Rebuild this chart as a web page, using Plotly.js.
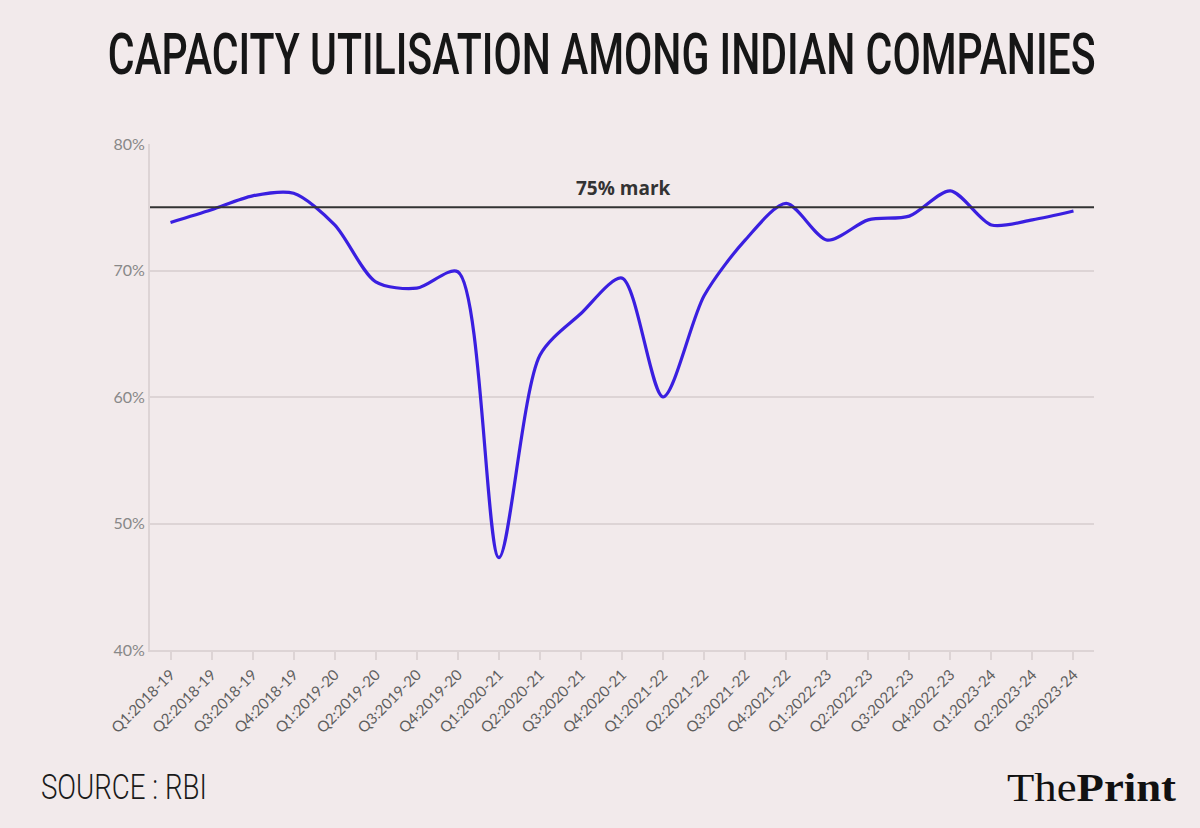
<!DOCTYPE html>
<html>
<head>
<meta charset="utf-8">
<script src="https://cdn.plot.ly/plotly-3.0.1.min.js"></script>
<style>
html,body{margin:0;padding:0;background:#f2eaeb;}
#chart{width:1200px;height:828px;}
</style>
</head>
<body>
<div id="chart"></div>
<script>
const quarters = ["Q1:2018-19","Q2:2018-19","Q3:2018-19","Q4:2018-19",
  "Q1:2019-20","Q2:2019-20","Q3:2019-20","Q4:2019-20",
  "Q1:2020-21","Q2:2020-21","Q3:2020-21","Q4:2020-21",
  "Q1:2021-22","Q2:2021-22","Q3:2021-22","Q4:2021-22",
  "Q1:2022-23","Q2:2022-23","Q3:2022-23","Q4:2022-23",
  "Q1:2023-24","Q2:2023-24","Q3:2023-24"];
const utilisation = [73.8,74.8,75.9,76.1,
  73.6,69.1,68.6,69.9,
  47.3,63.3,66.6,69.4,
  60.0,68.0,72.4,75.3,
  72.4,74.0,74.3,76.3,
  73.6,74.0,74.7];
const markValue = 75;
const yTicks = [40,50,60,70,80];
const yTickLabels = ["40%","50%","60%","70%","80%"];

const traces = [{
  x: quarters, y: utilisation, type: "scatter", mode: "lines",
  line: {color: "#3a1fe0", width: 3.2, shape: "spline", smoothing: 0.8},
  hoverinfo: "x+y"
}];

const layout = {
  width: 1200, height: 828,
  paper_bgcolor: "#f2eaeb", plot_bgcolor: "#f2eaeb",
  margin: {l: 150, r: 106, t: 144, b: 178},
  showlegend: false,
  xaxis: {
    type: "category", tickangle: -45, range: [-0.5, quarters.length - 0.5],
    tickfont: {family: "Lato, 'Open Sans', sans-serif", size: 15, color: "#5e5e5e"},
    showgrid: false, showline: true, linecolor: "#ddd4d5", linewidth: 2,
    ticks: "outside", ticklen: 8, tickcolor: "#ddd4d5", tickwidth: 2,
    zeroline: false, fixedrange: true
  },
  yaxis: {
    range: [40, 80], tickvals: yTicks, ticktext: yTickLabels,
    tickfont: {family: "Lato, 'Open Sans', sans-serif", size: 16, color: "#888"},
    showgrid: true, gridcolor: "#ddd4d5", gridwidth: 2,
    showline: true, linecolor: "#ddd4d5", linewidth: 2,
    ticks: "", ticklen: 0, zeroline: false, fixedrange: true
  },
  shapes: [{
    type: "line", xref: "paper", x0: 0, x1: 1, yref: "y", y0: markValue, y1: markValue,
    line: {color: "#333", width: 2}
  }],
  annotations: [
    {text: "<b>75% mark</b>", xref: "paper", x: 0.5, xshift: 1, yref: "y", y: markValue,
     yanchor: "bottom", yshift: 4, showarrow: false,
     font: {family: "'Open Sans', Lato, sans-serif", size: 19, color: "#333"}},
    {text: "CAPACITY UTILISATION AMONG INDIAN COMPANIES", xref: "paper", yref: "paper",
     x: 0.5, xanchor: "center", xshift: -21, y: 1, yshift: 90, yanchor: "middle", showarrow: false,
     font: {family: "Roboto, sans-serif", size: 40, weight: 500, color: "#161616"}},
    {text: "SOURCE : RBI", xref: "paper", yref: "paper", x: 0, xshift: -26, xanchor: "center",
     y: 0, yshift: -137, yanchor: "middle", showarrow: false,
     font: {family: "Roboto, sans-serif", size: 35, weight: 300, color: "#1a1a1a"}},
    {text: "The<b>Print</b>", xref: "paper", yref: "paper", x: 1, xshift: -2, xanchor: "center",
     y: 0, yshift: -137, yanchor: "middle", showarrow: false,
     font: {family: "'Liberation Serif', 'DejaVu Serif', serif", size: 40, color: "#111"}}
  ]
};

function fitText(gd, idx, len, scaleY) {
  const g = gd.querySelector('.annotation[data-index="' + idx + '"]');
  if (!g) return;
  const t = g.querySelector('text.annotation-text');
  if (!t) return;
  t.setAttribute('textLength', len);
  t.setAttribute('lengthAdjust', 'spacingAndGlyphs');
  let bb = t.getBBox();
  if (scaleY && scaleY !== 1) {
    const cy = bb.y + bb.height / 2;
    t.setAttribute('transform', 'translate(0,' + cy + ') scale(1,' + scaleY + ') translate(0,' + (-cy) + ')');
    bb = {x: bb.x, y: cy - bb.height * scaleY / 2, width: bb.width, height: bb.height * scaleY};
  }
  g.querySelectorAll('rect').forEach(r => {
    r.setAttribute('x', bb.x);
    r.setAttribute('y', bb.y);
    r.setAttribute('width', bb.width);
    r.setAttribute('height', bb.height);
  });
}

Plotly.newPlot("chart", traces, layout, {displayModeBar: false, staticPlot: true}).then(gd => {
  fitText(gd, 1, 988, 1.45);
  fitText(gd, 2, 166, 1);
  fitText(gd, 3, 169, 1);
});
</script>
</body>
</html>
